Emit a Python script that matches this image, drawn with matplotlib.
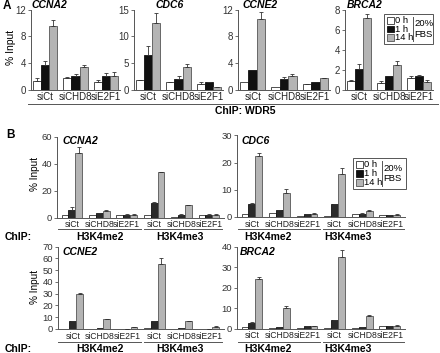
import matplotlib
matplotlib.use("Agg")
import matplotlib.pyplot as plt
import numpy as np
from matplotlib.patches import Rectangle
from matplotlib.lines import Line2D

plt.rcParams['font.family'] = ['Liberation Sans', 'DejaVu Sans']

# ---------------- data ----------------
groups_a = ['siCt', 'siCHD8', 'siE2F1']
groups_b = ['siCt', 'siCHD8', 'siE2F1', 'siCt', 'siCHD8', 'siE2F1']
series = ['0 h', '1 h', '14 h']

# Panel A (ChIP: WDR5)
a_ccna2_0h = [1.3, 1.8, 1.2];   a_ccna2_0h_err = [0.5, 0.1, 0.2]
a_ccna2_1h = [3.7, 2.0, 2.0];   a_ccna2_1h_err = [0.6, 0.3, 0.5]
a_ccna2_14h = [9.6, 3.4, 2.1];  a_ccna2_14h_err = [0.9, 0.3, 0.5]

a_cdc6_0h = [1.75, 1.4, 1.1];   a_cdc6_0h_err = [0.1, 0.1, 0.4]
a_cdc6_1h = [6.5, 2.0, 1.4];    a_cdc6_1h_err = [1.6, 0.6, 0.1]
a_cdc6_14h = [12.5, 4.25, 0.4]; a_cdc6_14h_err = [1.9, 0.5, 0.1]

a_ccne2_0h = [1.2, 0.4, 0.8];   a_ccne2_0h_err = [0.0, 0.0, 0.1]
a_ccne2_1h = [2.9, 1.6, 1.2];   a_ccne2_1h_err = [0.0, 0.3, 0.0]
a_ccne2_14h = [10.6, 2.1, 1.7]; a_ccne2_14h_err = [1.1, 0.3, 0.1]

a_brca2_0h = [0.9, 0.67, 1.17]; a_brca2_0h_err = [0.05, 0.2, 0.15]
a_brca2_1h = [2.05, 1.33, 1.33]; a_brca2_1h_err = [0.5, 0.0, 0.1]
a_brca2_14h = [7.2, 2.5, 0.73]; a_brca2_14h_err = [0.35, 0.4, 0.27]

# Panel B (ChIP: H3K4me2 groups, then H3K4me3 groups)
b_ccna2_0h = [1.5, 2.0, 2.0, 1.5, 0.7, 1.5]
b_ccna2_1h = [5.8, 3.0, 2.0, 10.6, 2.0, 2.0];   b_ccna2_1h_err = [1.8, 0.3, 0.3, 0.8, 0.3, 0.3]
b_ccna2_14h = [47.5, 4.8, 2.2, 33.5, 9.2, 2.2]; b_ccna2_14h_err = [4.5, 0.5, 0.3, 0.5, 0.3, 0.2]

b_cdc6_0h = [1.2, 1.6, 0.5, 0.4, 1.0, 0.9]
b_cdc6_1h = [4.9, 2.4, 1.0, 4.7, 1.0, 0.6];     b_cdc6_1h_err = [0.2, 0.1, 0.1, 0.2, 0.4, 0.1]
b_cdc6_14h = [22.6, 8.8, 1.2, 15.9, 2.2, 0.9];  b_cdc6_14h_err = [1.0, 1.6, 0.2, 2.2, 0.3, 0.2]

b_ccne2_0h = [0.3, 0.3, 0.2, 1.1, 0.4, 0.3]
b_ccne2_1h = [6.5, 0.5, 0.3, 6.8, 1.1, 0.3];    b_ccne2_1h_err = [0.2, 0.1, 0.1, 0.3, 0.1, 0.1]
b_ccne2_14h = [29.7, 8.2, 1.7, 55.0, 6.5, 2.0]; b_ccne2_14h_err = [1.3, 0.4, 0.3, 5.5, 0.4, 0.2]

b_brca2_0h = [0.8, 0.3, 0.3, 0.2, 0.3, 1.0]
b_brca2_1h = [2.9, 0.5, 1.3, 4.1, 0.5, 1.1];    b_brca2_1h_err = [0.2, 0.1, 0.1, 0.2, 0.1, 0.1]
b_brca2_14h = [24.2, 10.1, 1.3, 34.8, 6.2, 1.3]; b_brca2_14h_err = [0.8, 0.9, 0.1, 3.6, 0.3, 0.2]

# ---------------- layout helpers ----------------
W, H = 440.0, 353.0
fig = plt.figure(figsize=(W / 100, H / 100), dpi=100)

def add_ax(left, right, top, bottom):
    return fig.add_axes([left / W, 1 - bottom / H, (right - left) / W, (bottom - top) / H])

def ftext(x, y, s, **kw):
    fig.text(x / W, 1 - y / H, s, **kw)

def fline(x0, x1, y0, y1, **kw):
    fig.add_artist(Line2D([x0 / W, x1 / W], [1 - y0 / H, 1 - y1 / H], transform=fig.transFigure, **kw))

COL_W = '#ffffff'
COL_G = '#b4b4b4'
SPINE = '#555555'

def draw_panel(ax, groups, vals, errs, ymax, yticks, bw, blackcol, xlim, tsize, ysize):
    x = np.arange(len(groups))
    cols = [COL_W, blackcol, COL_G]
    edges = ['#333333', '#111111', '#555555']
    for i, (v, e) in enumerate(zip(vals, errs)):
        xi = x + (i - 1) * bw
        ax.bar(xi, v, width=bw, color=cols[i], edgecolor=edges[i], linewidth=0.6, zorder=2)
        if e is not None:
            e = np.asarray(e)
            m = e > 0
            ax.errorbar(xi[m], np.asarray(v)[m], yerr=[np.zeros(m.sum()), e[m]], fmt='none',
                        ecolor='#333333', elinewidth=0.6, capsize=1.3, capthick=0.6, zorder=3)
    ax.set_ylim(0, ymax)
    ax.set_yticks(yticks)
    ax.set_xlim(*xlim)
    ax.set_xticks(x)
    ax.set_xticklabels(groups)
    for s in ['top', 'right']:
        ax.spines[s].set_visible(False)
    for s in ['left', 'bottom']:
        ax.spines[s].set_color(SPINE)
        ax.spines[s].set_linewidth(0.7)
    ax.tick_params(axis='y', length=2.5, width=0.6, color=SPINE, labelsize=ysize, pad=1, labelcolor='#333333')
    ax.tick_params(axis='x', length=0, labelsize=tsize, pad=2, labelcolor='#222222')

# ---------------- Panel A ----------------
a_specs = [
    ('CCNA2', 31, 120, [a_ccna2_0h, a_ccna2_1h, a_ccna2_14h],
     [a_ccna2_0h_err, a_ccna2_1h_err, a_ccna2_14h_err], 12, [0, 4, 8, 12], 32),
    ('CDC6', 134, 223, [a_cdc6_0h, a_cdc6_1h, a_cdc6_14h],
     [a_cdc6_0h_err, a_cdc6_1h_err, a_cdc6_14h_err], 15, [0, 5, 10, 15], 155),
    ('CCNE2', 238, 330, [a_ccne2_0h, a_ccne2_1h, a_ccne2_14h],
     [a_ccne2_0h_err, a_ccne2_1h_err, a_ccne2_14h_err], 12, [0, 4, 8, 12], 242),
    ('BRCA2', 345, 433, [a_brca2_0h, a_brca2_1h, a_brca2_14h],
     [a_brca2_0h_err, a_brca2_1h_err, a_brca2_14h_err], 8, [0, 2, 4, 6, 8], 347),
]
for name, l, r, vals, errs, ymax, yt, tx in a_specs:
    top = 9.5 if ymax != 8 else 10
    ax = add_ax(l, r, top, 89.5)
    draw_panel(ax, groups_a, vals, errs, ymax, yt, 0.27, '#111111', (-0.47, 2.47), 7, 7)
    ftext(tx, 5, name, fontsize=7.5, fontweight='bold', style='italic', va='center', ha='left')

ftext(3, 6, 'A', fontsize=8.5, fontweight='bold', va='center')
ftext(11, 47, '% Input', fontsize=7.5, rotation=90, va='center', ha='center')
fline(28, 438, 103.5, 103.5, color='#555555', lw=0.7)
ftext(245, 110.5, 'ChIP: WDR5', fontsize=7.5, fontweight='bold', ha='center', va='center')

def legend_box(x0, x1, y0, y1):
    fig.add_artist(Rectangle((x0 / W, 1 - y1 / H), (x1 - x0) / W, (y1 - y0) / H,
                             transform=fig.transFigure, fill=False, edgecolor='#555555', lw=0.7))
    rowh = (y1 - y0 - 4) / 3.0
    cols = [COL_W, '#111111', COL_G]
    edges = ['#333333', '#111111', '#555555']
    for i, lab in enumerate(series):
        cy = y0 + 2 + rowh * (i + 0.5)
        sq = rowh * 0.75
        fig.add_artist(Rectangle(((x0 + 3) / W, 1 - (cy + sq / 2) / H), sq / W, sq / H,
                                 transform=fig.transFigure, facecolor=cols[i], edgecolor=edges[i], lw=0.6))
        ftext(x0 + 4.5 + sq, cy, lab, fontsize=6.8, va='center', ha='left')
    sep = x0 + 28.5
    fline(sep, sep, y0 + 3, y1 - 3, color='#555555', lw=0.7)
    ftext(sep + 2, (y0 + y1) / 2, '20%\nFBS', fontsize=6.8, va='center', ha='left', linespacing=1.2)

legend_box(384, 433, 14, 44)

# ---------------- Panel B ----------------
b_specs = [
    ('CCNA2', 57, 224, 136.5, 217.5, [b_ccna2_0h, b_ccna2_1h, b_ccna2_14h],
     [None, b_ccna2_1h_err, b_ccna2_14h_err], 60, [0, 20, 40, 60], 62, 141),
    ('CDC6', 237, 405, 135.5, 217, [b_cdc6_0h, b_cdc6_1h, b_cdc6_14h],
     [None, b_cdc6_1h_err, b_cdc6_14h_err], 30, [0, 10, 20, 30], 241, 141),
    ('CCNE2', 58, 224, 246.7, 329, [b_ccne2_0h, b_ccne2_1h, b_ccne2_14h],
     [None, b_ccne2_1h_err, b_ccne2_14h_err], 70, list(range(0, 71, 10)), 62, 252),
    ('BRCA2', 237, 405, 246.7, 328.5, [b_brca2_0h, b_brca2_1h, b_brca2_14h],
     [None, b_brca2_1h_err, b_brca2_14h_err], 40, [0, 10, 20, 30, 40], 240, 252),
]
for name, l, r, t, b, vals, errs, ymax, yt, tx, ty in b_specs:
    ax = add_ax(l, r, t, b)
    draw_panel(ax, groups_b, vals, errs, ymax, yt, 0.25, '#2a2a2a', (-0.54, 5.55), 6.2, 6.8)
    ftext(tx, ty, name, fontsize=7.5, fontweight='bold', style='italic', va='center', ha='left')

ftext(6, 135, 'B', fontsize=8.5, fontweight='bold', va='center')
ftext(35, 174, '% Input', fontsize=7.2, rotation=90, va='center', ha='center')
ftext(35, 287, '% Input', fontsize=7.2, rotation=90, va='center', ha='center')

# ChIP row labels
for (yl, yt_) in [(229, 236.5), (341.5, 348.5)]:
    fline(58, 141, yl, yl, color='#555555', lw=0.7)
    fline(144, 222, yl, yl, color='#555555', lw=0.7)
    fline(238, 320, yl, yl, color='#555555', lw=0.7)
    fline(323, 404, yl, yl, color='#555555', lw=0.7)
    ftext(5, yt_, 'ChIP:', fontsize=7.5, fontweight='bold', va='center', ha='left')
    ftext(100, yt_, 'H3K4me2', fontsize=7.5, fontweight='bold', va='center', ha='center')
    ftext(180, yt_, 'H3K4me3', fontsize=7.5, fontweight='bold', va='center', ha='center')
    ftext(268, yt_, 'H3K4me2', fontsize=7.5, fontweight='bold', va='center', ha='center')
    ftext(348, yt_, 'H3K4me3', fontsize=7.5, fontweight='bold', va='center', ha='center')

legend_box(353, 406, 158, 189)

fig.savefig('out.png', dpi=100)
